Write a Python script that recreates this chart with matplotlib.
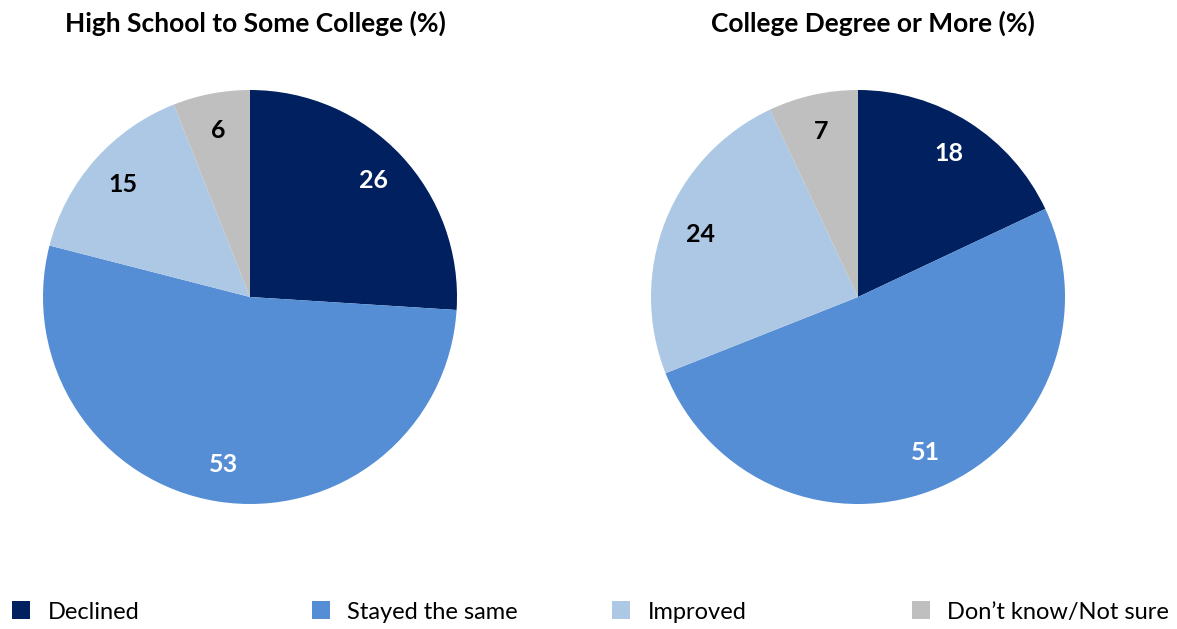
import matplotlib
matplotlib.use("Agg")
import matplotlib.pyplot as plt
from matplotlib.patches import Patch

plt.rcParams['font.family'] = ['Lato', 'DejaVu Sans']

categories = ['Declined', 'Stayed the same', 'Improved', 'Don\u2019t know/Not sure']
colors = ['#002060', '#558ED5', '#ADC8E4', '#BFBFBF']
label_colors = ['white', 'white', 'black', 'black']

titles = ['High School to Some College (%)', 'College Degree or More (%)']
hs_values = [26, 53, 15, 6]
college_values = [18, 51, 24, 7]

fig = plt.figure(figsize=(11.77, 6.29), dpi=100)

W, H = 1177, 629
centers = [(250, 297), (858, 297)]
r = 207
title_x = [255, 873]

for (cx, cy), vals, title, tx in zip(centers, [hs_values, college_values], titles, title_x):
    ax = fig.add_axes([(cx - r) / W, 1 - (cy + r) / H, 2 * r / W, 2 * r / H])
    wedges, texts = ax.pie(vals, colors=colors, startangle=90, counterclock=False,
                           labels=[str(v) for v in vals], labeldistance=0.82,
                           wedgeprops=dict(linewidth=0))
    for t, c in zip(texts, label_colors):
        t.set_color(c)
        t.set_fontsize(18)
        t.set_fontweight('bold')
        t.set_ha('center')
        t.set_va('center')
    ax.set_xlim(-1, 1)
    ax.set_ylim(-1, 1)
    ax.set_aspect('equal')
    ax.axis('off')
    fig.text(tx / W, 1 - 23 / H, title, ha='center', va='center',
             fontsize=19, fontweight='bold')

# legend: four evenly spaced entries along the bottom
for i, (cat, col) in enumerate(zip(categories, colors)):
    fig.legend(handles=[Patch(facecolor=col)], labels=[cat],
               loc='center left', bbox_to_anchor=((12 + 300 * i) / W, 1 - 612 / H),
               frameon=False, fontsize=17, handlelength=0.78, handleheight=0.78,
               handletextpad=0.72, borderaxespad=0, borderpad=0)

fig.savefig('out.png', dpi=100)
